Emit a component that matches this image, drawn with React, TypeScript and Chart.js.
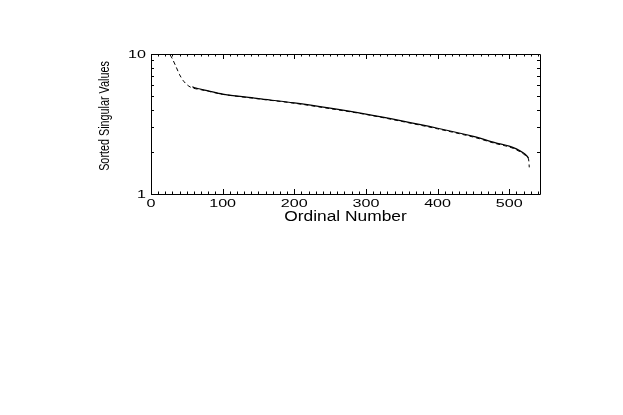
import React, { useEffect, useRef } from "react";
import { Chart, registerables } from "chart.js";

Chart.register(...registerables);

// Dashed curve (full spectrum of sorted singular values)
const dashedX = [15, 20, 25, 30, 35, 40, 45, 50, 55, 60, 70, 80, 100, 150, 200, 250, 300, 350, 400, 450, 480, 500, 510, 520, 525, 527, 528];
const dashedY = [13.5, 11.5, 10.2, 9.2, 8.1, 7.1, 6.45, 6.05, 5.8, 5.68, 5.55, 5.42, 5.15, 4.78, 4.45, 4.07, 3.7, 3.3, 2.92, 2.55, 2.3, 2.17, 2.07, 1.93, 1.84, 1.78, 1.55];
// Solid curve
const solidX = [58, 60, 70, 80, 100, 150, 200, 250, 300, 350, 400, 450, 480, 500, 510, 520, 525, 527];
const solidY = [5.85, 5.75, 5.6, 5.45, 5.17, 4.8, 4.47, 4.1, 3.72, 3.33, 2.95, 2.58, 2.33, 2.2, 2.1, 1.96, 1.86, 1.8];

const xMajorTicks = [0, 100, 200, 300, 400, 500];
const xMinorTicks = [10, 20, 30, 40, 50, 60, 70, 80, 90, 110, 120, 130, 140, 150, 160, 170, 180, 190, 210, 220, 230, 240, 250, 260, 270, 280, 290, 310, 320, 330, 340, 350, 360, 370, 380, 390, 410, 420, 430, 440, 450, 460, 470, 480, 490, 510, 520, 530, 540];
const yMajorTicks = [1, 10];
const yMinorTicks = [2, 3, 4, 5, 6, 7, 8, 9];

const X_MAX = 543;
const xTitle = "Ordinal Number";
const yTitle = "Sorted Singular Values";

const SANS = "'Liberation Sans', Arial, sans-serif";

function wideText(ctx: CanvasRenderingContext2D, text: string, x: number, y: number, sx: number, align: CanvasTextAlign) {
  ctx.save();
  ctx.translate(x, y);
  ctx.scale(sx, 1);
  ctx.textAlign = align;
  ctx.fillText(text, 0, 0);
  ctx.restore();
}

const framePlugin = {
  id: "frame",
  afterDraw(chart: any) {
    const { ctx, chartArea: a, scales } = chart;
    const xs = scales.x;
    const ys = scales.y;
    ctx.save();
    ctx.strokeStyle = "#000";
    ctx.lineWidth = 1;
    ctx.beginPath();
    ctx.rect(Math.round(a.left) + 0.5, Math.round(a.top) + 0.5, Math.round(a.right - a.left), Math.round(a.bottom - a.top));
    ctx.stroke();
    ctx.beginPath();
    const tickX = (v: number, len: number) => {
      const px = Math.round(xs.getPixelForValue(v)) + 0.5;
      ctx.moveTo(px, a.bottom);
      ctx.lineTo(px, a.bottom - len);
      ctx.moveTo(px, a.top);
      ctx.lineTo(px, a.top + len);
    };
    const tickY = (v: number, len: number) => {
      const py = Math.round(ys.getPixelForValue(v)) + 0.5;
      ctx.moveTo(a.left, py);
      ctx.lineTo(a.left + len, py);
      ctx.moveTo(a.right, py);
      ctx.lineTo(a.right - len, py);
    };
    xMajorTicks.forEach((v) => tickX(v, 5));
    xMinorTicks.forEach((v) => tickX(v, 2.5));
    yMajorTicks.forEach((v) => tickY(v, 5));
    yMinorTicks.forEach((v) => tickY(v, 3));
    ctx.stroke();

    ctx.fillStyle = "#000";
    ctx.textBaseline = "middle";
    // tick labels
    ctx.font = `11.5px ${SANS}`;
    xMajorTicks.forEach((v) => wideText(ctx, String(v), xs.getPixelForValue(v), a.bottom + 10, 1.4, "center"));
    yMajorTicks.forEach((v) => wideText(ctx, String(v), a.left - 5, ys.getPixelForValue(v) + 1, 1.4, "right"));
    // axis titles
    ctx.font = `14px ${SANS}`;
    wideText(ctx, xTitle, (a.left + a.right) / 2, a.bottom + 23, 1.24, "center");
    ctx.translate(105, 116);
    ctx.rotate(-Math.PI / 2);
    ctx.font = `15px ${SANS}`;
    ctx.scale(0.72, 1);
    ctx.textAlign = "center";
    ctx.fillText(yTitle, 0, 0);
    ctx.restore();
  },
};

export default function App() {
  const ref = useRef<HTMLCanvasElement | null>(null);
  useEffect(() => {
    document.body.style.margin = "0";
    const canvas = ref.current!;
    const chart = new Chart(canvas, {
      type: "line",
      data: {
        datasets: [
          {
            label: "dashed",
            data: dashedX.map((x, i) => ({ x, y: dashedY[i] })),
            borderColor: "#000",
            borderWidth: 1,
            borderDash: [4, 3],
            pointRadius: 0,
            tension: 0.3,
          },
          {
            label: "solid",
            data: solidX.map((x, i) => ({ x, y: solidY[i] })),
            borderColor: "#000",
            borderWidth: 1.2,
            pointRadius: 0,
            tension: 0.3,
          },
        ],
      },
      options: {
        animation: false,
        responsive: false,
        events: [],
        layout: { padding: { left: 0, right: 83, top: 54, bottom: 0 } },
        plugins: { legend: { display: false }, tooltip: { enabled: false } },
        scales: {
          x: {
            type: "linear",
            min: 0,
            max: X_MAX,
            grid: { display: false },
            border: { display: false },
            ticks: { display: false },
            afterFit: (s: any) => {
              s.height = 221;
            },
          },
          y: {
            type: "logarithmic",
            min: 1,
            max: 10,
            grid: { display: false },
            border: { display: false },
            ticks: { display: false },
            afterFit: (s: any) => {
              s.width = 151;
            },
          },
        },
      },
      plugins: [framePlugin],
    });
    return () => chart.destroy();
  }, []);
  return (
    <div style={{ position: "absolute", left: 0, top: 0, width: 623, height: 415, background: "#fff" }}>
      <canvas ref={ref} width={623} height={415} style={{ display: "block" }} />
    </div>
  );
}
